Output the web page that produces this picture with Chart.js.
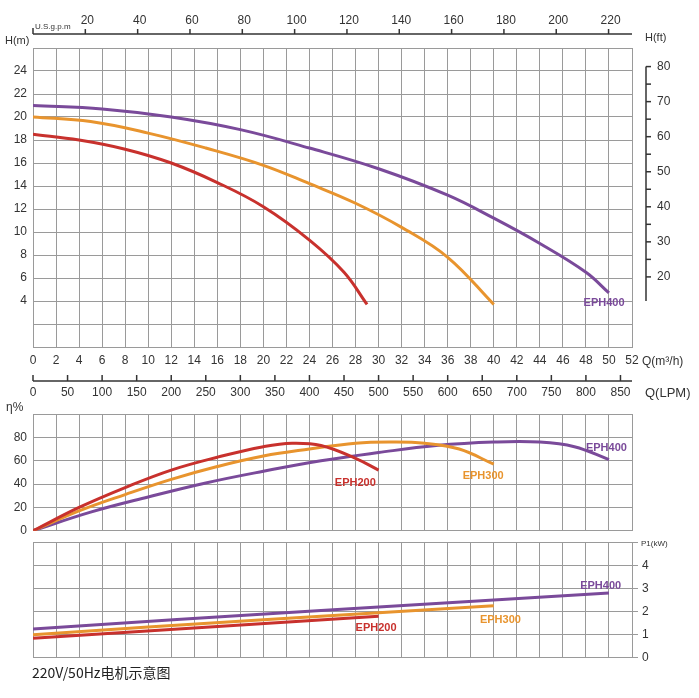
<!DOCTYPE html>
<html><head><meta charset="utf-8">
<script src="https://cdn.jsdelivr.net/npm/chart.js@4"></script>
<style>
body{margin:0;background:#fff;width:699px;height:698px;overflow:hidden;position:relative;font-family:"Liberation Sans Narrow","Liberation Sans",sans-serif}
canvas{position:absolute;left:0}
#title{position:absolute;left:32px;top:662px;font-family:"Noto Sans CJK SC",sans-serif;font-size:14px;color:#222}
</style></head><body>
<canvas id="c1" style="top:0"></canvas>
<canvas id="c2" style="top:370px"></canvas>
<canvas id="c3" style="top:531px"></canvas>
<div id="title">220V/50Hz电机示意图</div>
<script>
// Q in m3/h
const headRed = [[0,18.5],[4,18.0],[8,17.2],[12,16],[16,14.3],[20,12.2],[24,9.3],[27,6.5],[29,3.7]];
const headOrange = [[0,20],[5,19.6],[10,18.6],[15,17.3],[20,15.8],[24,14.2],[28,12.5],[32,10.4],[36,7.8],[40,3.7]];
const headPurple = [[0,21],[6,20.7],[12,20],[18,18.9],[24,17.3],[30,15.5],[36,13.2],[40,11.2],[44,9],[48,6.5],[50,4.7]];
const effRed = [[0,0],[4,20],[8,37],[12,52],[16,63],[20,72],[22.5,75],[25,73],[28,62],[30,52]];
const effOrange = [[0,0],[4,17],[8,31],[12,44],[16,55],[20,64],[24,70],[28,75],[31,76],[34,75],[37,70],[40,57]];
const effPurple = [[0,0],[5,16],[10,29],[15,41],[20,51],[25,60],[30,67],[35,73],[40,76],[44,76],[47,72],[50,61]];
const powRed = [[0,0.85],[15,1.32],[30,1.8]];
const powOrange = [[0,1.0],[20,1.65],[40,2.25]];
const powPurple = [[0,1.25],[25,2.05],[50,2.8]];
const gpmTicks = [20,40,60,80,100,120,140,160,180,200,220];
const lpmTicks = [0,50,100,150,200,250,300,350,400,450,500,550,600,650,700,750,800,850];
const ftTicks = [20,30,40,50,60,70,80];
const labels = {red:'EPH200',orange:'EPH300',purple:'EPH400'};

const RED='#c8312d', ORA='#e8942e', PUR='#7a4a9a', GRID='#9a9a9a', TXT='#333';
const FONT='"Liberation Sans Narrow","Liberation Sans",sans-serif';
const toPts = a => a.map(p=>({x:p[0],y:p[1]}));
const ds = (d,c)=>({data:toPts(d),borderColor:c,borderWidth:3,pointRadius:0,tension:0.4,fill:false});

function fixW(w){return s=>{s.width=w;};}
function fixH(h){return s=>{s.height=h;};}

function makeChart(id,h,padTop,ymin,ymax,ystep,sets,opts){
  const cv=document.getElementById(id); cv.width=699; cv.height=h; cv.style.width='699px'; cv.style.height=h+'px';
  return new Chart(cv,{type:'line',data:{datasets:sets},
    options:{responsive:false,animation:false,devicePixelRatio:1,
      layout:{padding:{top:padTop,left:opts.yRight?33:0,right:opts.yRight?0:67,bottom:0}},
      plugins:{legend:{display:false},tooltip:{enabled:false}},
      scales:{
        x:{type:'linear',min:0,max:52,grid:{color:GRID,drawTicks:false},border:{color:GRID},
           ticks:{stepSize:2,display:opts.xLabels,color:TXT,font:{family:FONT,size:12},padding:6},afterFit:fixH(opts.xh)},
        y:{position:opts.yRight?'right':'left',min:ymin,max:ymax,grid:{color:GRID,drawTicks:opts.yRight,tickLength:6},border:{color:GRID},
           ticks:{stepSize:ystep,color:TXT,font:{family:FONT,size:12},padding:opts.yRight?4:6,
             callback:v=>(v>=opts.lmin&&v<=opts.lmax)?v:''},afterFit:fixW(opts.yRight?67:33)}
      }},
    plugins:[opts.plugin]});
}
function txt(ctx,s,x,y,al,size,col,bold){ctx.save();ctx.fillStyle=col||TXT;ctx.font=(bold?'bold ':'')+(size||12)+'px '+FONT;ctx.textAlign=al||'left';ctx.textBaseline='middle';ctx.fillText(s,x,y);ctx.restore();}

// Top chart
makeChart('c1',370,48,0,26,2,[ds(headRed,RED),ds(headOrange,ORA),ds(headPurple,PUR)],
 {xLabels:true,xh:23,lmin:4,lmax:24,yRight:false,plugin:{id:'p1',afterDraw(c){
  const ctx=c.ctx,x=c.scales.x,y=c.scales.y,a=c.chartArea;
  ctx.save();ctx.strokeStyle='#333';ctx.lineWidth=1.5;
  ctx.beginPath();ctx.moveTo(x.getPixelForValue(0),34);ctx.lineTo(a.right,34);ctx.stroke();
  ctx.beginPath();ctx.moveTo(x.getPixelForValue(0),28);ctx.lineTo(x.getPixelForValue(0),34);ctx.stroke();
  gpmTicks.forEach(g=>{const px=x.getPixelForValue(g/4.403);ctx.beginPath();ctx.moveTo(px,29);ctx.lineTo(px,34);ctx.stroke();txt(ctx,String(g),px+2,21,'center',12);});
  txt(ctx,'U.S.g.p.m',x.getPixelForValue(0)+2,27,'left',8);
  txt(ctx,'H(m)',5,41,'left',11);txt(ctx,'H(ft)',645,38,'left',11);
  const ax=646;ctx.beginPath();ctx.moveTo(ax,y.getPixelForValue(80/3.2808));ctx.lineTo(ax,y.getPixelForValue(4));ctx.stroke();
  ftTicks.forEach(f=>{const py=y.getPixelForValue(f/3.2808);ctx.beginPath();ctx.moveTo(ax,py);ctx.lineTo(ax+5,py);ctx.stroke();txt(ctx,String(f),657,py,'left',12);
    const py2=y.getPixelForValue((f+5)/3.2808); if(f<80){ctx.beginPath();ctx.moveTo(ax,py2);ctx.lineTo(ax+5,py2);ctx.stroke();}});
  txt(ctx,'Q(m³/h)',x.getPixelForValue(52)+10,362,'left',12);
  txt(ctx,labels.purple,x.getPixelForValue(47.8),y.getPixelForValue(3.8),'left',11,PUR,true);
  ctx.restore();}}});

// Middle chart
makeChart('c2',174,44,0,100,20,[ds(effRed,RED),ds(effOrange,ORA),ds(effPurple,PUR)],
 {xLabels:false,xh:0,lmin:0,lmax:80,yRight:false,plugin:{id:'p2',afterDraw(c){
  const ctx=c.ctx,x=c.scales.x,y=c.scales.y,a=c.chartArea;
  ctx.save();ctx.strokeStyle='#333';ctx.lineWidth=1.5;
  ctx.beginPath();ctx.moveTo(x.getPixelForValue(0),11);ctx.lineTo(a.right,11);ctx.stroke();
  lpmTicks.forEach(l=>{const px=x.getPixelForValue(l/16.667);ctx.beginPath();ctx.moveTo(px,5);ctx.lineTo(px,11);ctx.stroke();txt(ctx,String(l),px,23,'center',12);});
  txt(ctx,'Q(LPM)',645,23,'left',13);
  txt(ctx,'η%',6,38,'left',12);
  txt(ctx,labels.red,x.getPixelForValue(26.2),y.getPixelForValue(41),'left',11,RED,true);
  txt(ctx,labels.orange,x.getPixelForValue(37.3),y.getPixelForValue(47),'left',11,ORA,true);
  txt(ctx,labels.purple,x.getPixelForValue(48),y.getPixelForValue(71),'left',11,PUR,true);
  ctx.restore();}}});

// Bottom chart
makeChart('c3',138,7,0,5,1,[ds(powRed,RED),ds(powOrange,ORA),ds(powPurple,PUR)],
 {xLabels:false,xh:1,lmin:0,lmax:4,yRight:true,plugin:{id:'p3',afterDraw(c){
  const ctx=c.ctx,x=c.scales.x,y=c.scales.y;
  txt(ctx,'P1(kW)',641,13,'left',8);
  txt(ctx,labels.red,x.getPixelForValue(28),y.getPixelForValue(1.3),'left',11,RED,true);
  txt(ctx,labels.orange,x.getPixelForValue(38.8),y.getPixelForValue(1.65),'left',11,ORA,true);
  txt(ctx,labels.purple,x.getPixelForValue(47.5),y.getPixelForValue(3.1),'left',11,PUR,true);
  }}});
</script>
</body></html>
